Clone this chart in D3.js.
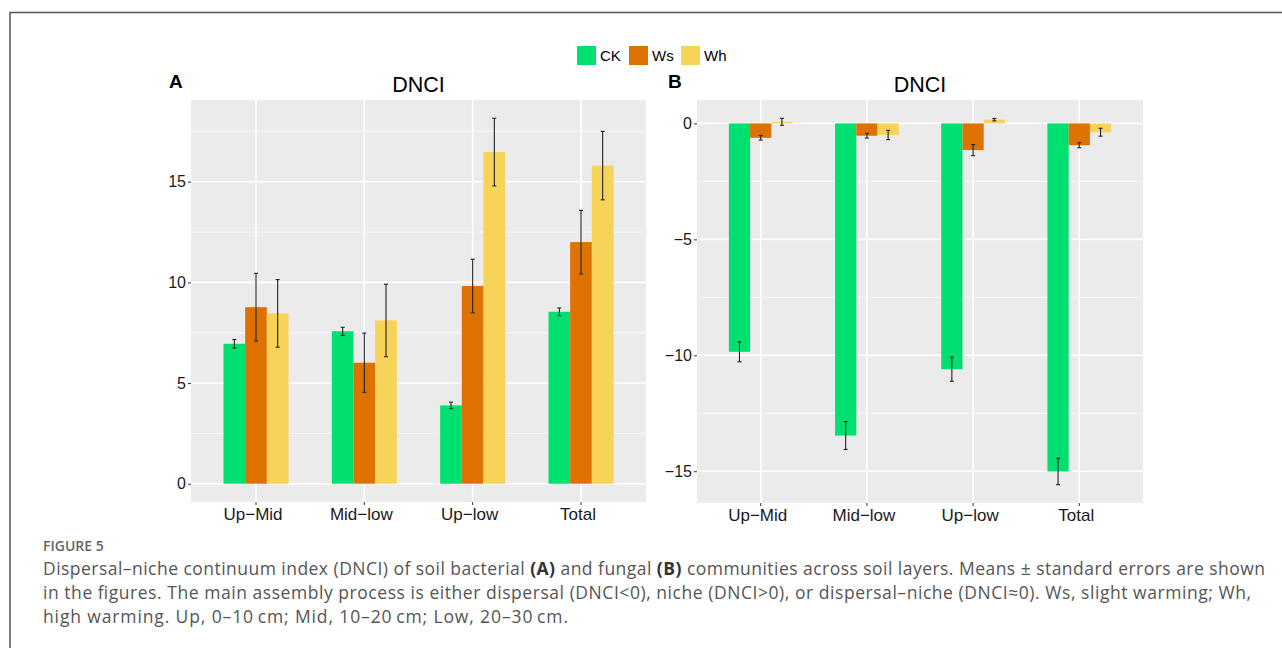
<!DOCTYPE html>
<meta charset="utf-8">
<script src="https://d3js.org/d3.v7.min.js"></script>
<style>
  body { margin: 0; background: #fff; }
  text { font-family: "Liberation Sans", Arial, sans-serif; }
  .cap { font-family: "Open Sans", sans-serif; }
</style>
<body>
<svg id="fig" width="1282" height="648"></svg>
</body>
<script>

// data
var layers = ["Up\u2212Mid", "Mid\u2212low", "Up\u2212low", "Total"];
var groups = ["CK", "Ws", "Wh"];
var colors = ["#00e070", "#de7200", "#f7d359"];

// panel A, bacteria
var bactMean = {
    CK: [6.95, 7.57, 3.89, 8.54],
    Ws: [8.77, 6.01, 9.82, 12.0],
    Wh: [8.46, 8.11, 16.47, 15.8]
};
var bactSe = {
    CK: [0.21, 0.2, 0.16, 0.19],
    Ws: [1.68, 1.47, 1.33, 1.58],
    Wh: [1.68, 1.8, 1.68, 1.7]
};

// panel B, fungi
var fungMean = {
    CK: [-9.85, -13.46, -10.6, -15.01],
    Ws: [-0.62, -0.53, -1.15, -0.94],
    Wh: [0.07, -0.5, 0.16, -0.38]
};
var fungSe = {
    CK: [0.43, 0.6, 0.52, 0.57],
    Ws: [0.1, 0.1, 0.24, 0.11],
    Wh: [0.15, 0.2, 0.05, 0.17]
};

var bactTicks = [0, 5, 10, 15];
var fungTicks = [-15, -10, -5, 0];

var svg = d3.select("#fig");

// outer frame
svg.append("path")
    .attr("d", "M10,648 V12.5 H1282")
    .attr("fill", "none")
    .attr("stroke", "#555")
    .attr("stroke-width", 1.5);

// legend
var legend = svg.append("g").attr("transform", "translate(577,46)");
var legX = [0, 52, 104];
groups.forEach(function(g, i) {
    legend.append("rect")
        .attr("x", legX[i]).attr("y", 0)
        .attr("width", 19).attr("height", 19)
        .attr("fill", colors[i]);
    legend.append("text")
        .attr("x", legX[i] + 23).attr("y", 15)
        .attr("font-size", 15)
        .text(g);
});

function toRows(means, ses) {
    var rows = [];
    layers.forEach(function(l, i) {
        groups.forEach(function(g) {
            rows.push({layer: l, group: g, mean: means[g][i], se: ses[g][i]});
        });
    });
    return rows;
}

function drawPanel(opt) {
    var x0 = opt.left, x1 = opt.right, y0 = opt.top, y1 = opt.bottom;
    var rows = toRows(opt.means, opt.ses);

    var lo = d3.min(rows, function(d) { return Math.min(0, d.mean - d.se); });
    var hi = d3.max(rows, function(d) { return Math.max(0, d.mean + d.se); });
    var pad = (hi - lo) * 0.05;

    var y = d3.scaleLinear().domain([lo - pad, hi + pad]).range([y1, y0]);
    // ggplot style: 0.6 unit expansion each side
    var step = (x1 - x0) / (layers.length - 1 + 1.2);
    var x = d3.scaleBand().domain(layers)
        .range([x0 + 0.6 * step - step / 2, x1 - 0.6 * step + step / 2]);
    var xs = d3.scaleBand().domain(groups).range([-0.3 * step, 0.3 * step]);

    var g = svg.append("g");

    g.append("rect")
        .attr("x", x0).attr("y", y0)
        .attr("width", x1 - x0).attr("height", y1 - y0)
        .attr("fill", "#ebebeb");

    // minor grid
    var minor = d3.range(Math.ceil((lo - pad) / 2.5), Math.floor((hi + pad) / 2.5) + 1)
        .map(function(k) { return k * 2.5; })
        .filter(function(v) { return v % 5 !== 0; });
    g.selectAll(".minor").data(minor).enter().append("line")
        .attr("x1", x0).attr("x2", x1)
        .attr("y1", function(d) { return y(d); })
        .attr("y2", function(d) { return y(d); })
        .attr("stroke", "#fff").attr("stroke-width", 0.8);

    // major grid
    g.selectAll(".major").data(opt.ticks).enter().append("line")
        .attr("x1", x0).attr("x2", x1)
        .attr("y1", function(d) { return y(d); })
        .attr("y2", function(d) { return y(d); })
        .attr("stroke", "#fff").attr("stroke-width", 1.6);

    g.selectAll(".vgrid").data(layers).enter().append("line")
        .attr("x1", function(d) { return x(d) + x.bandwidth() / 2; })
        .attr("x2", function(d) { return x(d) + x.bandwidth() / 2; })
        .attr("y1", y0).attr("y2", y1)
        .attr("stroke", "#fff").attr("stroke-width", 1.6);

    // bars
    g.selectAll(".bar").data(rows).enter().append("rect")
        .attr("x", function(d) { return x(d.layer) + x.bandwidth() / 2 + xs(d.group); })
        .attr("width", xs.bandwidth())
        .attr("y", function(d) { return y(Math.max(0, d.mean)); })
        .attr("height", function(d) { return Math.abs(y(d.mean) - y(0)); })
        .attr("fill", function(d) { return colors[groups.indexOf(d.group)]; });

    // error bars
    var eb = g.selectAll(".err").data(rows).enter().append("g")
        .attr("transform", function(d) {
            return "translate(" + (x(d.layer) + x.bandwidth() / 2 + xs(d.group) + xs.bandwidth() / 2) + ",0)";
        })
        .attr("stroke", "#222").attr("stroke-width", 1.1);
    eb.append("line")
        .attr("y1", function(d) { return y(d.mean + d.se); })
        .attr("y2", function(d) { return y(d.mean - d.se); });
    eb.append("line").attr("x1", -2).attr("x2", 2)
        .attr("y1", function(d) { return y(d.mean + d.se); })
        .attr("y2", function(d) { return y(d.mean + d.se); });
    eb.append("line").attr("x1", -2).attr("x2", 2)
        .attr("y1", function(d) { return y(d.mean - d.se); })
        .attr("y2", function(d) { return y(d.mean - d.se); });

    // axes
    var yAxis = d3.axisLeft(y).tickValues(opt.ticks).tickSize(3).tickPadding(2)
        .tickFormat(function(d) { return d < 0 ? "\u2212" + Math.abs(d) : d; });
    var ya = g.append("g").attr("transform", "translate(" + x0 + ",0)").call(yAxis);
    ya.select(".domain").remove();
    ya.selectAll("line").attr("stroke", "#333");
    ya.selectAll("text").attr("font-size", 16).attr("fill", "#1a1a1a")
        .attr("font-family", "Liberation Sans, Arial, sans-serif");

    var xAxis = d3.axisBottom(x).tickSize(3).tickPadding(3);
    var xa = g.append("g").attr("transform", "translate(0," + y1 + ")").call(xAxis);
    xa.select(".domain").remove();
    xa.selectAll("line").attr("stroke", "#333");
    xa.selectAll("text").attr("font-size", 17).attr("fill", "#1a1a1a")
        .attr("dx", -3)
        .attr("font-family", "Liberation Sans, Arial, sans-serif");

    // titles
    g.append("text")
        .attr("x", (x0 + x1) / 2).attr("y", y0 - 8)
        .attr("text-anchor", "middle")
        .attr("font-size", 21.5)
        .text("DNCI");
    g.append("text")
        .attr("x", opt.tagX).attr("y", y0 - 12)
        .attr("font-size", 19).attr("font-weight", "bold")
        .text(opt.tag);
}

drawPanel({left: 191, right: 646, top: 100, bottom: 502,
           means: bactMean, ses: bactSe, ticks: bactTicks, tag: "A", tagX: 169});
drawPanel({left: 697, right: 1143, top: 100, bottom: 503,
           means: fungMean, ses: fungSe, ticks: fungTicks, tag: "B", tagX: 668});

// caption
var cap = svg.append("g").attr("class", "cap");
cap.append("text")
    .attr("class", "cap")
    .attr("x", 43).attr("y", 551)
    .attr("font-size", 14).attr("font-weight", "600").attr("fill", "#666")
    .text("FIGURE 5");

var capLines = [
    [["Dispersal\u2013niche continuum index (DNCI) of soil bacterial ", 0], ["(A)", 1], [" and fungal ", 0], ["(B)", 1], [" communities across soil layers. Means \u00b1 standard errors are shown", 0]],
    [["in the figures. The main assembly process is either dispersal (DNCI<0), niche (DNCI>0), or dispersal\u2013niche (DNCI\u22480). Ws, slight warming; Wh,", 0]],
    [["high warming. Up, 0\u201310\u2009cm; Mid, 10\u201320\u2009cm; Low, 20\u201330\u2009cm.", 0]]
];
var capWidths = [1222, 1208, 525];
capLines.forEach(function(line, i) {
    var t = cap.append("text")
        .attr("class", "cap")
        .attr("x", 43).attr("y", 575 + i * 24)
        .attr("font-size", 17.5).attr("fill", "#555")
        .attr("textLength", capWidths[i])
        .attr("lengthAdjust", "spacing");
    line.forEach(function(part) {
        t.append("tspan")
            .attr("font-weight", part[1] ? "bold" : "normal")
            .attr("fill", part[1] ? "#333" : "#555")
            .text(part[0]);
    });
});

</script>
